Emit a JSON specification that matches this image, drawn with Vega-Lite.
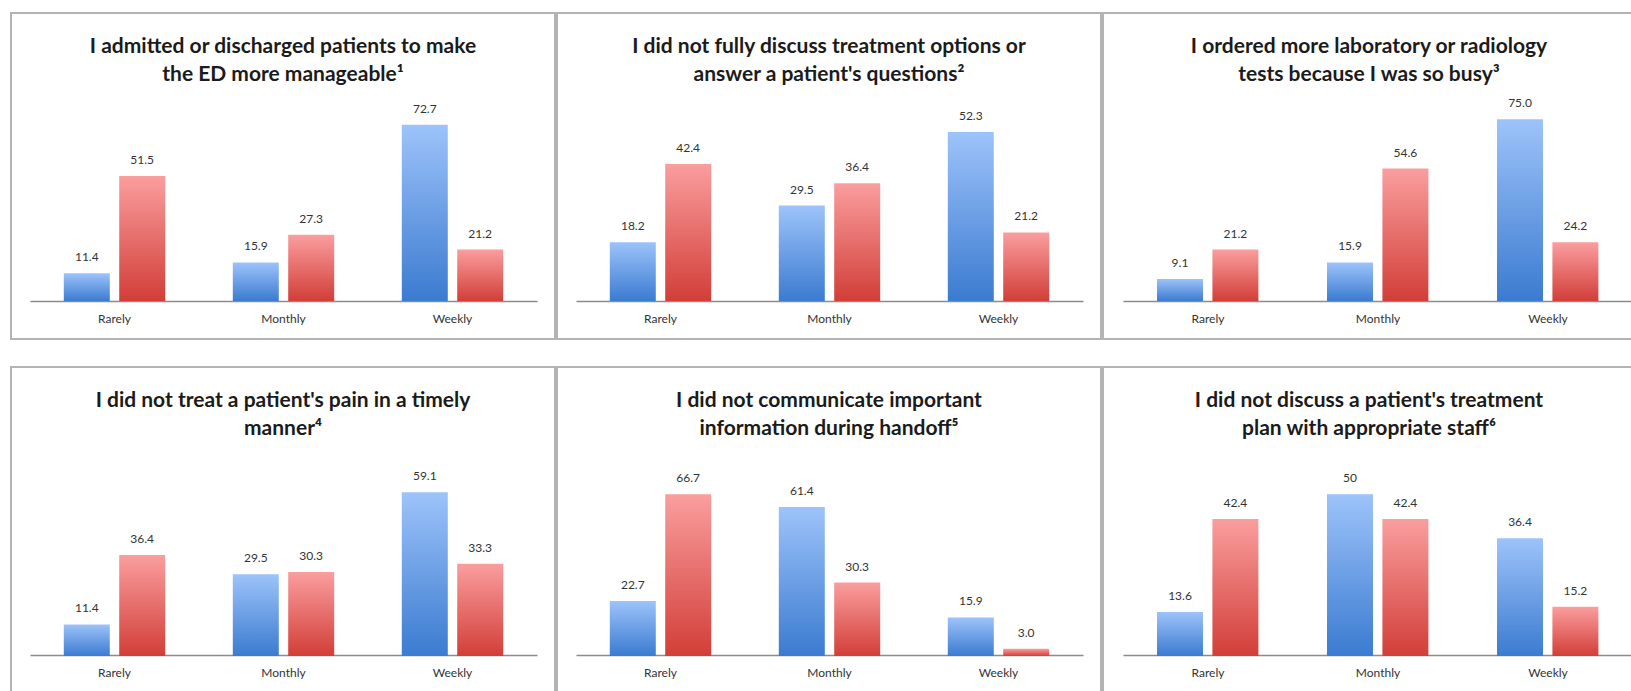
{
  "$schema": "https://vega.github.io/schema/vega-lite/v6.json",
  "padding": {"left": 10, "top": 12, "right": 0, "bottom": 0},
  "background": "white",
  "datasets": {
    "survey": [
      {"panel": 1, "freq": "Rarely", "group": "Blue", "pct": 11.4, "label": "11.4"},
      {"panel": 1, "freq": "Rarely", "group": "Red", "pct": 51.5, "label": "51.5"},
      {"panel": 1, "freq": "Monthly", "group": "Blue", "pct": 15.9, "label": "15.9"},
      {"panel": 1, "freq": "Monthly", "group": "Red", "pct": 27.3, "label": "27.3"},
      {"panel": 1, "freq": "Weekly", "group": "Blue", "pct": 72.7, "label": "72.7"},
      {"panel": 1, "freq": "Weekly", "group": "Red", "pct": 21.2, "label": "21.2"},
      {"panel": 2, "freq": "Rarely", "group": "Blue", "pct": 18.2, "label": "18.2"},
      {"panel": 2, "freq": "Rarely", "group": "Red", "pct": 42.4, "label": "42.4"},
      {"panel": 2, "freq": "Monthly", "group": "Blue", "pct": 29.5, "label": "29.5"},
      {"panel": 2, "freq": "Monthly", "group": "Red", "pct": 36.4, "label": "36.4"},
      {"panel": 2, "freq": "Weekly", "group": "Blue", "pct": 52.3, "label": "52.3"},
      {"panel": 2, "freq": "Weekly", "group": "Red", "pct": 21.2, "label": "21.2"},
      {"panel": 3, "freq": "Rarely", "group": "Blue", "pct": 9.1, "label": "9.1"},
      {"panel": 3, "freq": "Rarely", "group": "Red", "pct": 21.2, "label": "21.2"},
      {"panel": 3, "freq": "Monthly", "group": "Blue", "pct": 15.9, "label": "15.9"},
      {"panel": 3, "freq": "Monthly", "group": "Red", "pct": 54.6, "label": "54.6"},
      {"panel": 3, "freq": "Weekly", "group": "Blue", "pct": 75.0, "label": "75.0"},
      {"panel": 3, "freq": "Weekly", "group": "Red", "pct": 24.2, "label": "24.2"},
      {"panel": 4, "freq": "Rarely", "group": "Blue", "pct": 11.4, "label": "11.4"},
      {"panel": 4, "freq": "Rarely", "group": "Red", "pct": 36.4, "label": "36.4"},
      {"panel": 4, "freq": "Monthly", "group": "Blue", "pct": 29.5, "label": "29.5"},
      {"panel": 4, "freq": "Monthly", "group": "Red", "pct": 30.3, "label": "30.3"},
      {"panel": 4, "freq": "Weekly", "group": "Blue", "pct": 59.1, "label": "59.1"},
      {"panel": 4, "freq": "Weekly", "group": "Red", "pct": 33.3, "label": "33.3"},
      {"panel": 5, "freq": "Rarely", "group": "Blue", "pct": 22.7, "label": "22.7"},
      {"panel": 5, "freq": "Rarely", "group": "Red", "pct": 66.7, "label": "66.7"},
      {"panel": 5, "freq": "Monthly", "group": "Blue", "pct": 61.4, "label": "61.4"},
      {"panel": 5, "freq": "Monthly", "group": "Red", "pct": 30.3, "label": "30.3"},
      {"panel": 5, "freq": "Weekly", "group": "Blue", "pct": 15.9, "label": "15.9"},
      {"panel": 5, "freq": "Weekly", "group": "Red", "pct": 3.0, "label": "3.0"},
      {"panel": 6, "freq": "Rarely", "group": "Blue", "pct": 13.6, "label": "13.6"},
      {"panel": 6, "freq": "Rarely", "group": "Red", "pct": 42.4, "label": "42.4"},
      {"panel": 6, "freq": "Monthly", "group": "Blue", "pct": 50, "label": "50"},
      {"panel": 6, "freq": "Monthly", "group": "Red", "pct": 42.4, "label": "42.4"},
      {"panel": 6, "freq": "Weekly", "group": "Blue", "pct": 36.4, "label": "36.4"},
      {"panel": 6, "freq": "Weekly", "group": "Red", "pct": 15.2, "label": "15.2"}
    ]
  },
  "config": {
    "view": {"stroke": "#b4b4b4", "strokeWidth": 2},
    "title": {"font": "Lato", "fontSize": 21, "fontWeight": "bold", "color": "#1b1b1b", "anchor": "middle", "lineHeight": 28, "offset": -72},
    "axisX": {"title": null, "ticks": false, "domainColor": "#8c8c8c", "domainWidth": 1.5, "labelFont": "Lato", "labelFontSize": 12, "labelColor": "#333333", "labelPadding": 12, "labelAngle": 0, "offset": -38, "grid": false},
    "text": {"font": "Lato", "fontSize": 12, "color": "#333333"}
  },
  "vconcat": [
    {
      "spacing": 0,
      "hconcat": [
        {
          "width": 544, "height": 326,
          "title": {"text": ["I admitted or discharged patients to make", "the ED more manageable¹"]},
          "data": {"name": "survey"},
          "transform": [{"filter": "datum.panel === 1"}],
          "encoding": {
            "x": {"field": "freq", "type": "nominal", "sort": ["Rarely", "Monthly", "Weekly"], "scale": {"range": [19, 526], "paddingInner": 0.4, "paddingOuter": 0.2}},
            "xOffset": {"field": "group", "type": "nominal", "scale": {"domain": ["Blue", "Red"], "paddingInner": 0.17}},
            "y": {"field": "pct", "type": "quantitative", "scale": {"domain": [0, 80], "range": [288, 94], "nice": false}, "axis": null}
          },
          "layer": [
            {"transform": [{"filter": "datum.group === 'Blue'"}], "mark": {"type": "bar", "color": {"gradient": "linear", "x1": 0, "y1": 0, "x2": 0, "y2": 1, "stops": [{"offset": 0, "color": "#9dc3fa"}, {"offset": 1, "color": "#3b7bd0"}]}}},
            {"transform": [{"filter": "datum.group === 'Red'"}], "mark": {"type": "bar", "color": {"gradient": "linear", "x1": 0, "y1": 0, "x2": 0, "y2": 1, "stops": [{"offset": 0, "color": "#fa9e9e"}, {"offset": 1, "color": "#d23e38"}]}}},
            {"mark": {"type": "text", "baseline": "bottom", "dy": -9}, "encoding": {"text": {"field": "label"}}}
          ]
        },
        {
          "width": 544, "height": 326,
          "title": {"text": ["I did not fully discuss treatment options or", "answer a patient's questions²"]},
          "data": {"name": "survey"},
          "transform": [{"filter": "datum.panel === 2"}],
          "encoding": {
            "x": {"field": "freq", "type": "nominal", "sort": ["Rarely", "Monthly", "Weekly"], "scale": {"range": [19, 526], "paddingInner": 0.4, "paddingOuter": 0.2}},
            "xOffset": {"field": "group", "type": "nominal", "scale": {"domain": ["Blue", "Red"], "paddingInner": 0.17}},
            "y": {"field": "pct", "type": "quantitative", "scale": {"domain": [0, 60], "range": [288, 94], "nice": false}, "axis": null}
          },
          "layer": [
            {"transform": [{"filter": "datum.group === 'Blue'"}], "mark": {"type": "bar", "color": {"gradient": "linear", "x1": 0, "y1": 0, "x2": 0, "y2": 1, "stops": [{"offset": 0, "color": "#9dc3fa"}, {"offset": 1, "color": "#3b7bd0"}]}}},
            {"transform": [{"filter": "datum.group === 'Red'"}], "mark": {"type": "bar", "color": {"gradient": "linear", "x1": 0, "y1": 0, "x2": 0, "y2": 1, "stops": [{"offset": 0, "color": "#fa9e9e"}, {"offset": 1, "color": "#d23e38"}]}}},
            {"mark": {"type": "text", "baseline": "bottom", "dy": -9}, "encoding": {"text": {"field": "label"}}}
          ]
        },
        {
          "width": 532, "height": 326,
          "title": {"text": ["I ordered more laboratory or radiology", "tests because I was so busy³"]},
          "data": {"name": "survey"},
          "transform": [{"filter": "datum.panel === 3"}],
          "encoding": {
            "x": {"field": "freq", "type": "nominal", "sort": ["Rarely", "Monthly", "Weekly"], "scale": {"range": [20, 530], "paddingInner": 0.4, "paddingOuter": 0.2}},
            "xOffset": {"field": "group", "type": "nominal", "scale": {"domain": ["Blue", "Red"], "paddingInner": 0.17}},
            "y": {"field": "pct", "type": "quantitative", "scale": {"domain": [0, 80], "range": [288, 94], "nice": false}, "axis": null}
          },
          "layer": [
            {"transform": [{"filter": "datum.group === 'Blue'"}], "mark": {"type": "bar", "color": {"gradient": "linear", "x1": 0, "y1": 0, "x2": 0, "y2": 1, "stops": [{"offset": 0, "color": "#9dc3fa"}, {"offset": 1, "color": "#3b7bd0"}]}}},
            {"transform": [{"filter": "datum.group === 'Red'"}], "mark": {"type": "bar", "color": {"gradient": "linear", "x1": 0, "y1": 0, "x2": 0, "y2": 1, "stops": [{"offset": 0, "color": "#fa9e9e"}, {"offset": 1, "color": "#d23e38"}]}}},
            {"mark": {"type": "text", "baseline": "bottom", "dy": -9}, "encoding": {"text": {"field": "label"}}}
          ]
        }
      ]
    },
    {
      "spacing": 0,
      "hconcat": [
        {
          "width": 544, "height": 326,
          "title": {"text": ["I did not treat a patient's pain in a timely", "manner⁴"]},
          "data": {"name": "survey"},
          "transform": [{"filter": "datum.panel === 4"}],
          "encoding": {
            "x": {"field": "freq", "type": "nominal", "sort": ["Rarely", "Monthly", "Weekly"], "scale": {"range": [19, 526], "paddingInner": 0.4, "paddingOuter": 0.2}},
            "xOffset": {"field": "group", "type": "nominal", "scale": {"domain": ["Blue", "Red"], "paddingInner": 0.17}},
            "y": {"field": "pct", "type": "quantitative", "scale": {"domain": [0, 70], "range": [289, 95], "nice": false}, "axis": null}
          },
          "layer": [
            {"transform": [{"filter": "datum.group === 'Blue'"}], "mark": {"type": "bar", "color": {"gradient": "linear", "x1": 0, "y1": 0, "x2": 0, "y2": 1, "stops": [{"offset": 0, "color": "#9dc3fa"}, {"offset": 1, "color": "#3b7bd0"}]}}},
            {"transform": [{"filter": "datum.group === 'Red'"}], "mark": {"type": "bar", "color": {"gradient": "linear", "x1": 0, "y1": 0, "x2": 0, "y2": 1, "stops": [{"offset": 0, "color": "#fa9e9e"}, {"offset": 1, "color": "#d23e38"}]}}},
            {"mark": {"type": "text", "baseline": "bottom", "dy": -9}, "encoding": {"text": {"field": "label"}}}
          ]
        },
        {
          "width": 544, "height": 326,
          "title": {"text": ["I did not communicate important", "information during handoff⁵"]},
          "data": {"name": "survey"},
          "transform": [{"filter": "datum.panel === 5"}],
          "encoding": {
            "x": {"field": "freq", "type": "nominal", "sort": ["Rarely", "Monthly", "Weekly"], "scale": {"range": [19, 526], "paddingInner": 0.4, "paddingOuter": 0.2}},
            "xOffset": {"field": "group", "type": "nominal", "scale": {"domain": ["Blue", "Red"], "paddingInner": 0.17}},
            "y": {"field": "pct", "type": "quantitative", "scale": {"domain": [0, 80], "range": [289, 95], "nice": false}, "axis": null}
          },
          "layer": [
            {"transform": [{"filter": "datum.group === 'Blue'"}], "mark": {"type": "bar", "color": {"gradient": "linear", "x1": 0, "y1": 0, "x2": 0, "y2": 1, "stops": [{"offset": 0, "color": "#9dc3fa"}, {"offset": 1, "color": "#3b7bd0"}]}}},
            {"transform": [{"filter": "datum.group === 'Red'"}], "mark": {"type": "bar", "color": {"gradient": "linear", "x1": 0, "y1": 0, "x2": 0, "y2": 1, "stops": [{"offset": 0, "color": "#fa9e9e"}, {"offset": 1, "color": "#d23e38"}]}}},
            {"mark": {"type": "text", "baseline": "bottom", "dy": -9}, "encoding": {"text": {"field": "label"}}}
          ]
        },
        {
          "width": 532, "height": 326,
          "title": {"text": ["I did not discuss a patient's treatment", "plan with appropriate staff⁶"]},
          "data": {"name": "survey"},
          "transform": [{"filter": "datum.panel === 6"}],
          "encoding": {
            "x": {"field": "freq", "type": "nominal", "sort": ["Rarely", "Monthly", "Weekly"], "scale": {"range": [20, 530], "paddingInner": 0.4, "paddingOuter": 0.2}},
            "xOffset": {"field": "group", "type": "nominal", "scale": {"domain": ["Blue", "Red"], "paddingInner": 0.17}},
            "y": {"field": "pct", "type": "quantitative", "scale": {"domain": [0, 60], "range": [289, 95], "nice": false}, "axis": null}
          },
          "layer": [
            {"transform": [{"filter": "datum.group === 'Blue'"}], "mark": {"type": "bar", "color": {"gradient": "linear", "x1": 0, "y1": 0, "x2": 0, "y2": 1, "stops": [{"offset": 0, "color": "#9dc3fa"}, {"offset": 1, "color": "#3b7bd0"}]}}},
            {"transform": [{"filter": "datum.group === 'Red'"}], "mark": {"type": "bar", "color": {"gradient": "linear", "x1": 0, "y1": 0, "x2": 0, "y2": 1, "stops": [{"offset": 0, "color": "#fa9e9e"}, {"offset": 1, "color": "#d23e38"}]}}},
            {"mark": {"type": "text", "baseline": "bottom", "dy": -9}, "encoding": {"text": {"field": "label"}}}
          ]
        }
      ]
    }
  ],
  "spacing": 26
}
